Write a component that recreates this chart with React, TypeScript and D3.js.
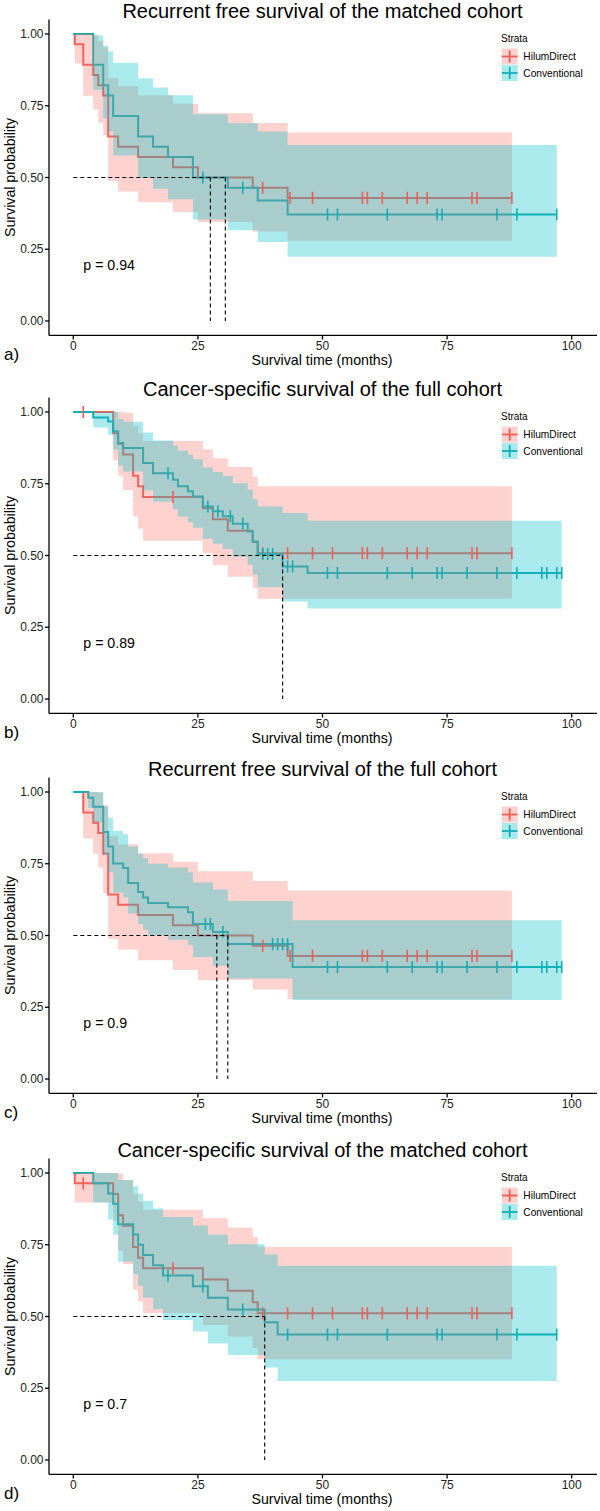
import React from "react";
import * as d3 from "d3";

// step rows: [time, survival, lower CI, upper CI]
type Step = [number, number, number, number];

const titles = [
  "Recurrent free survival of the matched cohort",
  "Cancer-specific survival of the full cohort",
  "Recurrent free survival of the full cohort",
  "Cancer-specific survival of the matched cohort",
];
const panelLabels = ["a)", "b)", "c)", "d)"];
const pValues = ["p = 0.94", "p = 0.89", "p = 0.9", "p = 0.7"];
const strata = ["HilumDirect", "Conventional"];
const yTicks = [0, 0.25, 0.5, 0.75, 1];
const xTicks = [0, 25, 50, 75, 100];

// a) recurrent free, matched
const aHilum: Step[] = [
  [0, 1, 1, 1], [0.3, 0.964, 0.897, 1], [2, 0.893, 0.785, 1], [4, 0.857, 0.737, 0.997],
  [5, 0.821, 0.691, 0.976], [6, 0.786, 0.648, 0.954], [7, 0.643, 0.488, 0.847],
  [9, 0.607, 0.451, 0.818], [13, 0.571, 0.414, 0.787], [20, 0.536, 0.38, 0.757],
  [25, 0.5, 0.345, 0.724], [36, 0.464, 0.312, 0.69], [43, 0.429, 0.28, 0.657],
];
const aHilumCensor = [38, 43.5, 48, 58, 59, 62, 67, 69, 71, 80, 81, 88];
const aConv: Step[] = [
  [0, 1, 1, 1], [4, 0.893, 0.806, 0.995], [6, 0.821, 0.706, 0.96], [7, 0.786, 0.661, 0.94],
  [8, 0.714, 0.577, 0.9], [13, 0.643, 0.498, 0.846], [16, 0.607, 0.461, 0.814],
  [19, 0.571, 0.424, 0.787], [24, 0.5, 0.354, 0.72], [31, 0.464, 0.316, 0.689],
  [37, 0.42, 0.275, 0.66], [43, 0.371, 0.224, 0.613],
];
const aConvCensor = [26, 34, 51, 53, 63, 73, 74, 85, 89, 97];
const aMedians = [27.5, 30.5];

// b) cancer-specific, full
const bHilum: Step[] = [
  [0, 1, 1, 1], [8, 0.926, 0.832, 1], [9, 0.889, 0.778, 1], [10, 0.852, 0.728, 0.997],
  [12, 0.778, 0.636, 0.952], [13, 0.741, 0.593, 0.926], [14, 0.704, 0.551, 0.899],
  [26, 0.665, 0.508, 0.87], [28, 0.626, 0.466, 0.839], [31, 0.586, 0.426, 0.808],
  [36, 0.547, 0.387, 0.775], [37, 0.508, 0.349, 0.741],
];
const bHilumCensor = [2, 20, 38, 43, 48, 52, 58, 59, 62, 67, 69, 71, 80, 81, 88];
const bConv: Step[] = [
  [0, 1, 1, 1], [4, 0.981, 0.946, 1], [7, 0.967, 0.921, 1], [8, 0.933, 0.869, 1],
  [9, 0.892, 0.814, 0.976], [10, 0.875, 0.793, 0.966], [14, 0.822, 0.727, 0.929],
  [16, 0.787, 0.687, 0.901], [20, 0.764, 0.661, 0.883], [21, 0.741, 0.635, 0.865],
  [23, 0.724, 0.616, 0.851], [24, 0.706, 0.597, 0.835], [26, 0.671, 0.558, 0.807],
  [28, 0.654, 0.541, 0.791], [30, 0.637, 0.523, 0.777], [32, 0.611, 0.496, 0.752],
  [35, 0.584, 0.468, 0.729], [36, 0.549, 0.433, 0.696], [37, 0.505, 0.39, 0.671],
  [42, 0.462, 0.34, 0.648], [47, 0.439, 0.315, 0.621],
];
const bConvCensor = [19, 27, 29, 31.5, 34, 38, 39, 40, 43, 44, 51, 53, 63, 68, 73, 74, 79, 85, 89, 94, 95, 97, 98];
const bMedians = [42];

// c) recurrent free, full
const cHilum: Step[] = [
  [0, 1, 1, 1], [2, 0.929, 0.838, 1], [4, 0.893, 0.785, 1], [5, 0.857, 0.737, 0.997],
  [6, 0.786, 0.648, 0.954], [7, 0.643, 0.488, 0.847], [9, 0.607, 0.451, 0.818],
  [13, 0.571, 0.414, 0.787], [20, 0.536, 0.38, 0.757], [25, 0.5, 0.345, 0.724],
  [36, 0.464, 0.312, 0.69], [43, 0.429, 0.278, 0.657],
];
const cHilumCensor = [38, 43.5, 48, 58, 59, 62, 67, 69, 71, 80, 81, 88];
const cConv: Step[] = [
  [0, 1, 1, 1], [3, 0.98, 0.944, 1], [4, 0.949, 0.895, 1], [6, 0.861, 0.78, 0.95],
  [7, 0.81, 0.72, 0.91], [8, 0.751, 0.65, 0.865], [10, 0.735, 0.633, 0.853],
  [11, 0.683, 0.577, 0.81], [13, 0.652, 0.54, 0.785], [14, 0.632, 0.52, 0.77],
  [15, 0.613, 0.5, 0.75], [19, 0.598, 0.485, 0.737], [23, 0.581, 0.467, 0.72],
  [24, 0.54, 0.425, 0.685], [28, 0.512, 0.395, 0.66], [31, 0.47, 0.35, 0.62],
  [44, 0.39, 0.275, 0.553],
];
const cConvCensor = [26.5, 27.5, 30, 40, 41, 42, 43, 51, 53, 63, 68, 73, 74, 79, 85, 89, 94, 95, 97, 98];
const cMedians = [28.8, 31];

// d) cancer-specific, matched
const dHilum: Step[] = [
  [0, 1, 1, 1], [0.3, 0.964, 0.897, 1], [8, 0.927, 0.835, 1], [9, 0.853, 0.73, 0.997],
  [10, 0.816, 0.683, 0.976], [12, 0.742, 0.594, 0.927], [13, 0.705, 0.552, 0.9],
  [14, 0.668, 0.512, 0.872], [26, 0.629, 0.47, 0.842], [31, 0.59, 0.43, 0.81],
  [36, 0.55, 0.39, 0.777], [37, 0.511, 0.351, 0.743],
];
const dHilumCensor = [2, 20, 38, 43, 48, 52, 58, 59, 62, 67, 69, 71, 80, 81, 88];
const dConv: Step[] = [
  [0, 1, 1, 1], [4, 0.964, 0.897, 1], [7, 0.929, 0.838, 1], [8, 0.893, 0.785, 1],
  [9, 0.821, 0.691, 0.976], [12, 0.786, 0.648, 0.954], [13, 0.75, 0.606, 0.929],
  [14, 0.714, 0.565, 0.903], [16, 0.679, 0.526, 0.876], [18, 0.643, 0.488, 0.847],
  [24, 0.605, 0.448, 0.817], [27, 0.565, 0.406, 0.785], [31, 0.524, 0.366, 0.752],
  [38.4, 0.48, 0.322, 0.716], [41, 0.437, 0.275, 0.677],
];
const dConvCensor = [19, 26, 34, 43, 51, 53, 63, 73, 74, 85, 89, 97];
const dMedians = [38.4];

const hilumSteps = [aHilum, bHilum, cHilum, dHilum];
const hilumCensors = [aHilumCensor, bHilumCensor, cHilumCensor, dHilumCensor];
const convSteps = [aConv, bConv, cConv, dConv];
const convCensors = [aConvCensor, bConvCensor, cConvCensor, dConvCensor];
const medians = [aMedians, bMedians, cMedians, dMedians];
const panelTops = [0, 378, 758, 1139];

const lineColors = ["#F25C57", "#12AEB3"];
const fillColors = ["#F8766D", "#00BFC4"];
const FONT = "'Liberation Sans', Arial, Helvetica, sans-serif";

const x = d3.scaleLinear().domain([0, 100]).range([73.3, 571.7]);
const y = d3.scaleLinear().domain([0, 1]).range([321, 34]);

const survLine = d3
  .line<[number, number]>()
  .curve(d3.curveStepAfter)
  .x((d) => x(d[0]))
  .y((d) => y(d[1]));

const band = d3
  .area<Step>()
  .curve(d3.curveStepAfter)
  .x((d) => x(d[0]))
  .y0((d) => y(d[2]))
  .y1((d) => y(d[3]));

function survAt(steps: Step[], t: number) {
  let s = steps[0];
  for (const r of steps) if (r[0] <= t) s = r;
  return s[1];
}

function Curve({ steps, censor, k, part }: { steps: Step[]; censor: number[]; k: number; part: string }) {
  const last = steps[steps.length - 1];
  const end = Math.max(last[0], d3.max(censor) ?? 0);
  const ext: Step[] = [...steps, [end, last[1], last[2], last[3]]];
  if (part === "line")
    return (
      <path
        d={survLine(ext.map((r) => [r[0], r[1]] as [number, number])) ?? ""}
        fill="none"
        stroke={lineColors[k]}
        strokeWidth={2}
      />
    );
  if (part === "band") return <path d={band(ext) ?? ""} fill={fillColors[k]} fillOpacity={0.33} />;
  return (
    <g stroke={lineColors[k]} strokeWidth={1.6}>
      {censor.map((t, i) => {
        const yy = y(survAt(steps, t));
        return <line key={i} x1={x(t)} x2={x(t)} y1={yy - 6} y2={yy + 6} />;
      })}
    </g>
  );
}

function Panel({ i }: { i: number }) {
  const med = medians[i];
  const medMax = d3.max(med) ?? 0;
  return (
    <g transform={`translate(0,${panelTops[i]})`} fontFamily={FONT}>
      <text x={322.5} y={18} fontSize={20} textAnchor="middle" fill="#000">
        {titles[i]}
      </text>
      <Curve steps={hilumSteps[i]} censor={hilumCensors[i]} k={0} part="line" />
      <Curve steps={convSteps[i]} censor={convCensors[i]} k={1} part="line" />
      <Curve steps={hilumSteps[i]} censor={hilumCensors[i]} k={0} part="band" />
      <Curve steps={convSteps[i]} censor={convCensors[i]} k={1} part="band" />
      <Curve steps={hilumSteps[i]} censor={hilumCensors[i]} k={0} part="censor" />
      <Curve steps={convSteps[i]} censor={convCensors[i]} k={1} part="censor" />
      <g stroke="#000" strokeWidth={1.1} strokeDasharray="4,3" fill="none">
        <line x1={x(0)} x2={x(medMax)} y1={y(0.5)} y2={y(0.5)} />
        {med.map((m, j) => (
          <line key={j} x1={x(m)} x2={x(m)} y1={y(0.5)} y2={y(0)} />
        ))}
      </g>
      {/* axes */}
      <g stroke="#000" strokeWidth={1.3}>
        <line x1={49} x2={49} y1={19.6} y2={335.4} />
        <line x1={49} x2={597} y1={335.4} y2={335.4} />
        {yTicks.map((v) => (
          <line key={v} x1={45} x2={49} y1={y(v)} y2={y(v)} />
        ))}
        {xTicks.map((v) => (
          <line key={v} x1={x(v)} x2={x(v)} y1={335.4} y2={339.5} />
        ))}
      </g>
      <g fontSize={12} fill="#222">
        {yTicks.map((v) => (
          <text key={v} x={43.5} y={y(v)} textAnchor="end" dominantBaseline="central">
            {d3.format(".2f")(v)}
          </text>
        ))}
        {xTicks.map((v) => (
          <text key={v} x={x(v)} y={345.5} textAnchor="middle" dominantBaseline="central">
            {v}
          </text>
        ))}
      </g>
      <text x={322} y={365} fontSize={14.2} textAnchor="middle" fill="#000">
        Survival time (months)
      </text>
      <text
        transform={`translate(15,177.5) rotate(-90)`}
        fontSize={14.2}
        textAnchor="middle"
        fill="#000"
      >
        Survival probability
      </text>
      <text x={83.3} y={269.5} fontSize={14.2} fill="#000">
        {pValues[i]}
      </text>
      <text x={4} y={359.5} fontSize={17} fill="#000">
        {panelLabels[i]}
      </text>
      {/* legend */}
      <text x={501} y={38.5} fontSize={10} dominantBaseline="central" fill="#000">
        Strata
      </text>
      {strata.map((s, k) => {
        const ky = 48.5 + k * 16.5;
        return (
          <g key={s}>
            <rect x={501.7} y={ky} width={16} height={16} fill={fillColors[k]} fillOpacity={0.33} />
            <line x1={502} x2={517.5} y1={ky + 8} y2={ky + 8} stroke={lineColors[k]} strokeWidth={1.8} />
            <line x1={509.7} x2={509.7} y1={ky + 2} y2={ky + 14} stroke={lineColors[k]} strokeWidth={1.8} />
            <text x={523.3} y={ky + 8} fontSize={10.2} dominantBaseline="central" fill="#000">
              {s}
            </text>
          </g>
        );
      })}
    </g>
  );
}

export default function App() {
  return (
    <svg
      width={600}
      height={1511}
      style={{ position: "absolute", left: 0, top: 0, background: "#fff" }}
    >
      <rect width={600} height={1511} fill="#fff" />
      {[0, 1, 2, 3].map((i) => (
        <Panel key={i} i={i} />
      ))}
    </svg>
  );
}
